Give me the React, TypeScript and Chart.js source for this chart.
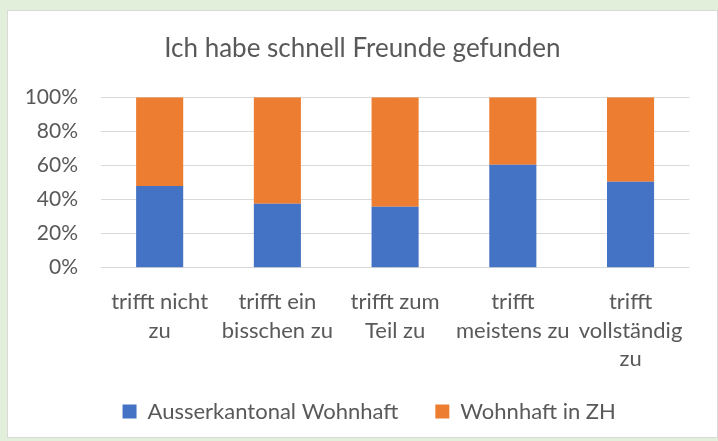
import React, { useEffect, useRef } from "react";
import { Chart, registerables } from "chart.js";

Chart.register(...registerables);

const chartTitle = "Ich habe schnell Freunde gefunden";
const categories: string[][] = [
  ["trifft nicht", "zu"],
  ["trifft ein", "bisschen zu"],
  ["trifft zum", "Teil zu"],
  ["trifft", "meistens zu"],
  ["trifft", "vollständig", "zu"],
];
const seriesNames = ["Ausserkantonal Wohnhaft", "Wohnhaft in ZH"];
const ausserkantonal = [48, 37.6, 35.8, 60.4, 50.5];
const wohnhaftZH = [52, 62.4, 64.2, 39.6, 49.5];
const yTickStep = 20;
const yMax = 100;

const TEXT = "#595959";
const FONT = "Lato";

export default function App() {
  const ref = useRef<HTMLCanvasElement | null>(null);

  useEffect(() => {
    if (!ref.current) return;
    const shiftBoxes = {
      id: "shiftBoxes",
      afterLayout(chart: any) {
        const lg = chart.legend;
        if (lg) {
          lg.left += 24.5;
          lg.right += 24.5;
          lg.top -= 18.5;
          lg.bottom -= 18.5;
        }
        const tb = chart.titleBlock;
        if (tb) {
          tb.left += 17.6;
          tb.right += 17.6;
        }
      },
    };
    const chart = new Chart(ref.current, {
      type: "bar",
      data: {
        labels: categories,
        datasets: [
          {
            label: seriesNames[0],
            data: ausserkantonal,
            backgroundColor: "#4472C4",
            borderWidth: 0,
          },
          {
            label: seriesNames[1],
            data: wohnhaftZH,
            backgroundColor: "#ED7D31",
            borderWidth: 0,
          },
        ],
      },
      options: {
        animation: false,
        responsive: false,
        maintainAspectRatio: false,
        layout: { padding: { top: 0, left: 0, right: 28.6, bottom: -10 } },
        datasets: { bar: { categoryPercentage: 1, barPercentage: 0.4 } },
        plugins: {
          title: {
            display: true,
            text: chartTitle,
            color: TEXT,
            font: { family: FONT, size: 26, weight: "normal" },
            padding: { top: 33.4, bottom: 32.7 },
          },
          legend: {
            position: "bottom",
            labels: {
              boxWidth: 14,
              boxHeight: 14,
              padding: 37,
              color: TEXT,
              font: { family: FONT, size: 22 },
            },
          },
          tooltip: { enabled: false },
        },
        scales: {
          x: {
            stacked: true,
            grid: { display: false },
            border: { display: false },
            ticks: {
              color: TEXT,
              font: { family: FONT, size: 22, lineHeight: 1.29 },
              padding: 12.2,
              maxRotation: 0,
              autoSkip: false,
            },
            afterFit: (s: any) => {
              s.height = 114.3;
            },
          },
          y: {
            stacked: true,
            min: 0,
            max: yMax,
            grid: { color: "#D9D9D9", lineWidth: 1, drawTicks: false },
            border: { display: false },
            ticks: {
              stepSize: yTickStep,
              padding: 22.8,
              color: TEXT,
              font: { family: FONT, size: 21 },
              callback: (v: any) => v + "%",
            },
            afterFit: (s: any) => {
              s.width = 100.8;
            },
          },
        },
      },
      plugins: [shiftBoxes],
    });
    return () => chart.destroy();
  }, []);

  return (
    <div
      style={{
        position: "fixed",
        left: 0,
        top: 0,
        width: 718,
        height: 441,
        background: "#E2EFDA",
      }}
    >
      <div
        style={{
          position: "absolute",
          left: 7,
          top: 10,
          width: 711,
          height: 428,
          background: "#FFFFFF",
          border: "1px solid #D9D9D9",
          boxSizing: "border-box",
        }}
      />
      <canvas
        ref={ref}
        width={718}
        height={441}
        style={{ position: "absolute", left: 0, top: 0, width: 718, height: 441 }}
      />
    </div>
  );
}
